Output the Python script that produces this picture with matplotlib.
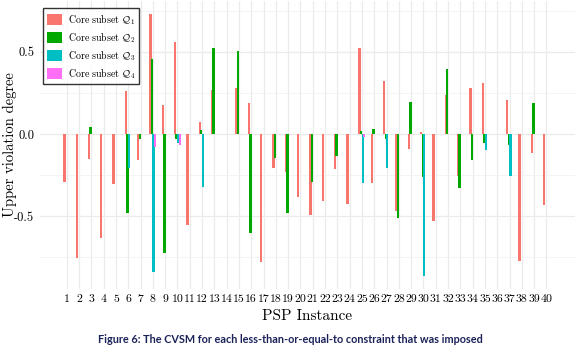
import numpy as np
import matplotlib
matplotlib.use("Agg")
import matplotlib.pyplot as plt

plt.rcParams["font.family"] = ["cmr10", "DejaVu Serif"]
plt.rcParams["mathtext.fontset"] = "cm"
plt.rcParams["axes.unicode_minus"] = False

instances = list(range(1, 41))

# upper violation degree per PSP instance, one list per core subset (0 = no bar)
q1 = [-0.29, -0.757, -0.154, -0.633, -0.306, 0.262, -0.158, 0.729, 0.178, 0.56,
      -0.556, 0.073, 0.268, 0.0, 0.28, 0.189, -0.777, -0.209, -0.229, -0.381,
      -0.493, -0.406, -0.215, -0.426, 0.525, -0.296, 0.323, -0.467, -0.093, 0.012,
      -0.53, 0.237, -0.254, 0.282, 0.309, 0.0, 0.207, -0.771, -0.114, -0.432]
q2 = [0.0, 0.0, 0.043, 0.0, 0.0, -0.483, -0.032, 0.457, -0.726, -0.032,
      0.0, 0.024, 0.525, 0.0, 0.505, -0.60, 0.0, -0.148, -0.483, 0.0,
      -0.29, 0.0, -0.132, 0.0, 0.018, 0.03, -0.032, -0.513, 0.195, -0.26,
      0.0, 0.396, -0.327, -0.158, -0.053, 0.0, -0.067, 0.0, 0.19, 0.0]
q3 = [0.0, 0.0, 0.0, 0.0, 0.0, -0.209, 0.0, -0.838, 0.0, -0.057,
      0.0, -0.325, 0.0, 0.0, 0.0, 0.0, 0.0, 0.0, 0.0, 0.0,
      0.0, 0.0, 0.0, 0.0, -0.296, 0.0, -0.209, 0.0, 0.0, -0.862,
      0.0, 0.0, 0.0, 0.0, -0.097, 0.0, -0.254, 0.0, 0.0, 0.0]
q4 = [0.0, 0.0, 0.0, 0.0, 0.0, 0.0, 0.0, -0.081, 0.0, -0.067,
      0.0, 0.0, 0.0, 0.0, 0.0, 0.0, 0.0, 0.0, 0.0, 0.0,
      0.0, 0.0, 0.0, 0.0, -0.02, 0.0, 0.0, 0.0, 0.0, 0.0,
      0.0, 0.0, 0.0, 0.0, 0.0, 0.0, 0.0, 0.0, 0.0, 0.0]

series = [q1, q2, q3, q4]
labels = [r"$\mathrm{Core\ subset}\ \mathcal{Q}_%d$" % i for i in range(1, 5)]
colors = ["#F8766D", "#00A800", "#00BFC4", "#FF6EF5"]

fig = plt.figure(figsize=(5.8, 3.54), dpi=100)
ax = fig.add_axes([0.069, 0.184, 0.922, 0.8125])

x = np.array(instances, dtype=float)
step = 0.125
w = 0.19
for i, (vals, lab, col) in enumerate(zip(series, labels, colors)):
    off = (i - 1.5) * step
    ax.bar(x + off, vals, width=w, color=col, label=lab, linewidth=0, zorder=3)

ax.set_xlim(-1.17, 42.3)
ax.set_ylim(-0.942, 0.808)
ax.set_xticks(instances)
ax.set_xticklabels([str(i) for i in instances], fontsize=8.5)
ax.set_yticks([-0.5, 0.0, 0.5])
ax.set_yticklabels(["-0.5", "0.0", "0.5"], fontsize=9)
ax.set_yticks([-0.75, -0.25, 0.25, 0.75], minor=True)
ax.tick_params(which="both", length=0, pad=4)
ax.grid(True, which="major", color="#EBEBEB", linewidth=0.9, zorder=0)
ax.grid(True, which="minor", axis="y", color="#F2F2F2", linewidth=0.6, zorder=0)
for s in ax.spines.values():
    s.set_visible(False)

ax.set_xlabel("PSP Instance", fontsize=11, labelpad=4)
ax.set_ylabel("Upper violation degree", fontsize=10.5)
ax.yaxis.set_label_coords(-0.043, 0.5)

leg = ax.legend(loc="upper left", bbox_to_anchor=(0.006, 0.975), fontsize=7.2,
                frameon=True, fancybox=False, handlelength=1.5, handleheight=1.3,
                borderpad=0.35, labelspacing=0.33, handletextpad=0.6,
                borderaxespad=0)
leg.get_frame().set_edgecolor("black")
leg.get_frame().set_linewidth(1.0)

fig.text(0.5, 0.04, "Figure 6: The CVSM for each less-than-or-equal-to constraint that was imposed",
         ha="center", va="center", fontsize=7.8, fontweight="bold",
         family=["Lato", "DejaVu Sans"], color="#1b2258")

fig.savefig("out.png", dpi=100)
